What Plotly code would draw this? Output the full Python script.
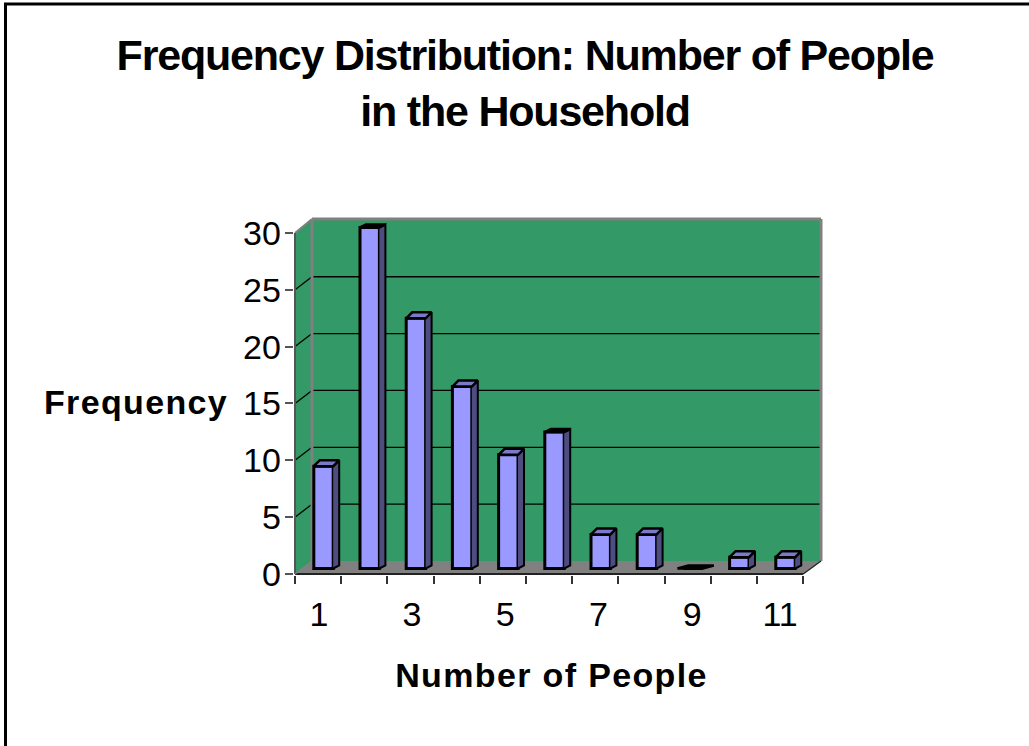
import plotly.graph_objects as go

# ---- data ----
categories = list(range(1, 12))
frequency = [9, 30, 22, 16, 10, 12, 3, 3, 0, 1, 1]
y_ticks = [0, 5, 10, 15, 20, 25, 30]
x_labels = ["1", "3", "5", "7", "9", "11"]
x_label_positions = [0.52, 2.53, 4.55, 6.57, 8.6, 10.5]
x_edges = list(range(0, 12))

# ---- styling / layout constants ----
W, H = 1029, 746
PX_X0, PX_Y0 = 295.0, 574.0   # pixel of data (0, 0)
PX_PER_X, PX_PER_Y = 46.2, 11.37
X_MIN, X_MAX = -0.03, 11.5
Y_MIN, Y_MAX = -0.12, 31.5
DX_WALL, DY_WALL = 17 / PX_PER_X, 13 / PX_PER_Y
X_WALL_R, Y_WALL_T = 526 / PX_PER_X, 355 / PX_PER_Y
BAR_OFFSET, BAR_W = 0.617, 0.42
BAR_BASE = 5.5 / PX_PER_Y
SIDE_DX = 6 / PX_PER_X
RISE_BOTTOM = 3 / PX_PER_Y
RISE_TOP = 6 / PX_PER_Y
RISE_THIN = 3 / PX_PER_Y
GREEN, GRAY = "#339966", "#808080"
FRONT, SIDE, TOP = "#9999ff", "#4d4d80", "#7a7acc"
FONT = "Liberation Sans, Arial, sans-serif"


def poly(pts):
    return "M " + " L ".join(f"{x:.4f} {y:.4f}" for x, y in pts) + " Z"


def line(x0, y0, x1, y1, color, width, layer="between"):
    return dict(type="line", xref="x", yref="y", x0=x0, y0=y0, x1=x1, y1=y1,
                line=dict(color=color, width=width), layer=layer)


shapes = [
    # outer frame
    dict(type="rect", xref="paper", yref="paper", x0=5.5 / W, x1=1 + 5 / W,
         y0=-5 / H, y1=1 - 4 / H, line=dict(color="black", width=3), layer="below"),
    # walls and floor
    dict(type="path", xref="x", yref="y", layer="below", line=dict(width=0), fillcolor=GREEN,
         path=poly([(DX_WALL, DY_WALL), (X_WALL_R, DY_WALL), (X_WALL_R, Y_WALL_T), (DX_WALL, Y_WALL_T)])),
    dict(type="path", xref="x", yref="y", layer="below", line=dict(width=0), fillcolor=GREEN,
         path=poly([(0, 0), (DX_WALL, DY_WALL), (DX_WALL, Y_WALL_T), (0, y_ticks[-1])])),
    dict(type="path", xref="x", yref="y", layer="below", line=dict(width=0), fillcolor=GRAY,
         path=poly([(0, 0), (x_edges[-1], 0), (X_WALL_R, DY_WALL), (DX_WALL, DY_WALL)])),
]
for v in y_ticks[1:-1]:
    shapes.append(line(DX_WALL, v + DY_WALL, X_WALL_R, v + DY_WALL, "black", 1.3))
    shapes.append(line(0, v, DX_WALL, v + DY_WALL, "black", 1.3))
shapes += [
    line(DX_WALL, Y_WALL_T, X_WALL_R, Y_WALL_T, GRAY, 3),
    line(X_WALL_R, Y_WALL_T, X_WALL_R, DY_WALL, GRAY, 3),
    line(DX_WALL, Y_WALL_T, DX_WALL, DY_WALL, GRAY, 3),
    line(0, y_ticks[-1], DX_WALL, Y_WALL_T, GRAY, 2),
    line(0, 0, 0, y_ticks[-1], "#555555", 2),
    line(0, 0, x_edges[-1], 0, "#222222", 2),
    line(x_edges[-1], 0, X_WALL_R, DY_WALL, "#222222", 1.3),
    line(0, 0, DX_WALL, DY_WALL, GRAY, 1.3),
]

bar_x = [c - 1 + BAR_OFFSET for c in categories]
fig = go.Figure()
fig.add_bar(
    x=bar_x, y=frequency, base=BAR_BASE, width=BAR_W, showlegend=False,
    marker=dict(color=FRONT, line=dict(color="black", width=3)),
)

# side faces
sx, sy = [], []
for x, v in zip(bar_x, frequency):
    if v == 0:
        continue
    r = x + BAR_W / 2
    rise = RISE_THIN if v in (30, 12) else RISE_TOP
    sx += [r, r + SIDE_DX, r + SIDE_DX, r, None]
    sy += [BAR_BASE, BAR_BASE + RISE_BOTTOM, BAR_BASE + v + rise, BAR_BASE + v, None]
fig.add_scatter(x=sx, y=sy, mode="lines", fill="toself", fillcolor=SIDE,
                line=dict(color="black", width=2), showlegend=False, hoverinfo="skip")

# top faces (very shallow ones read as solid black in the reference)
tops = {TOP: ([], []), "black": ([], [])}
for x, v in zip(bar_x, frequency):
    l, r = x - BAR_W / 2, x + BAR_W / 2
    thin = v in (30, 12, 0)
    rise = RISE_THIN if thin else RISE_TOP
    tx, ty = tops["black" if thin else TOP]
    if v == 0:  # the empty bar is a flat sliver lying on the floor
        l -= 6 / PX_PER_X
        lean = 11 / PX_PER_X
    else:
        lean = SIDE_DX
    tx += [l, l + lean, r + lean, r, l, None]
    ty += [BAR_BASE + v, BAR_BASE + v + rise, BAR_BASE + v + rise, BAR_BASE + v, BAR_BASE + v, None]
for colour, (tx, ty) in tops.items():
    fig.add_scatter(x=tx, y=ty, mode="lines", fill="toself", fillcolor=colour,
                    line=dict(color="black", width=2.5), showlegend=False, hoverinfo="skip")

fig.update_layout(
    width=W, height=H, paper_bgcolor="white", plot_bgcolor="white",
    margin=dict(l=0, r=0, t=0, b=0), showlegend=False, shapes=shapes,
    font=dict(family=FONT, color="black"),
    title=dict(text="<b>Frequency Distribution: Number of People</b><br><b>in the Household</b>",
               x=525 / W, xanchor="center", y=1 - 70 / H, yanchor="top", automargin=False,
               font=dict(size=43, family=FONT, color="black")),
    annotations=[
        dict(text="<b>Frequency</b>", xref="paper", yref="paper",
             x=136 / W, xanchor="center", y=1 - 402 / H, yanchor="middle", showarrow=False,
             font=dict(size=34, family=FONT, color="black")),
        dict(text="<b>Number of People</b>", xref="paper", yref="paper",
             x=551 / W, xanchor="center", y=1 - 675 / H, yanchor="middle", showarrow=False,
             font=dict(size=34, family=FONT, color="black")),
    ],
    xaxis=dict(
        domain=[(PX_X0 + X_MIN * PX_PER_X) / W, (PX_X0 + X_MAX * PX_PER_X) / W],
        range=[X_MIN, X_MAX], showgrid=False, zeroline=False, showline=False, automargin=False,
        tickmode="array", tickvals=x_label_positions, ticktext=x_labels,
        ticks="outside", ticklen=9, tickcolor="rgba(0,0,0,0)", tickfont=dict(size=34),
        minor=dict(tickmode="array", tickvals=x_edges, ticks="outside", ticklen=8,
                   tickcolor="#333333", tickwidth=1.5),
    ),
    yaxis=dict(
        domain=[1 - (PX_Y0 - Y_MIN * PX_PER_Y) / H, 1 - (PX_Y0 - Y_MAX * PX_PER_Y) / H],
        range=[Y_MIN, Y_MAX], showgrid=False, zeroline=False, showline=False, automargin=False,
        tickmode="array", tickvals=y_ticks, ticks="outside", ticklen=8, ticklabelstandoff=-3,
        tickcolor="#555555", tickwidth=2, tickfont=dict(size=34),
    ),
)

fig.write_html("out.html", config=dict(displayModeBar=False),
               post_script="document.body.style.margin='0';"
               "document.querySelectorAll('.annotation-text').forEach(function(t){t.style.letterSpacing='1.35px';});"
               "document.querySelectorAll('.gtitle').forEach(function(t){t.style.letterSpacing='-1.2px';});")
